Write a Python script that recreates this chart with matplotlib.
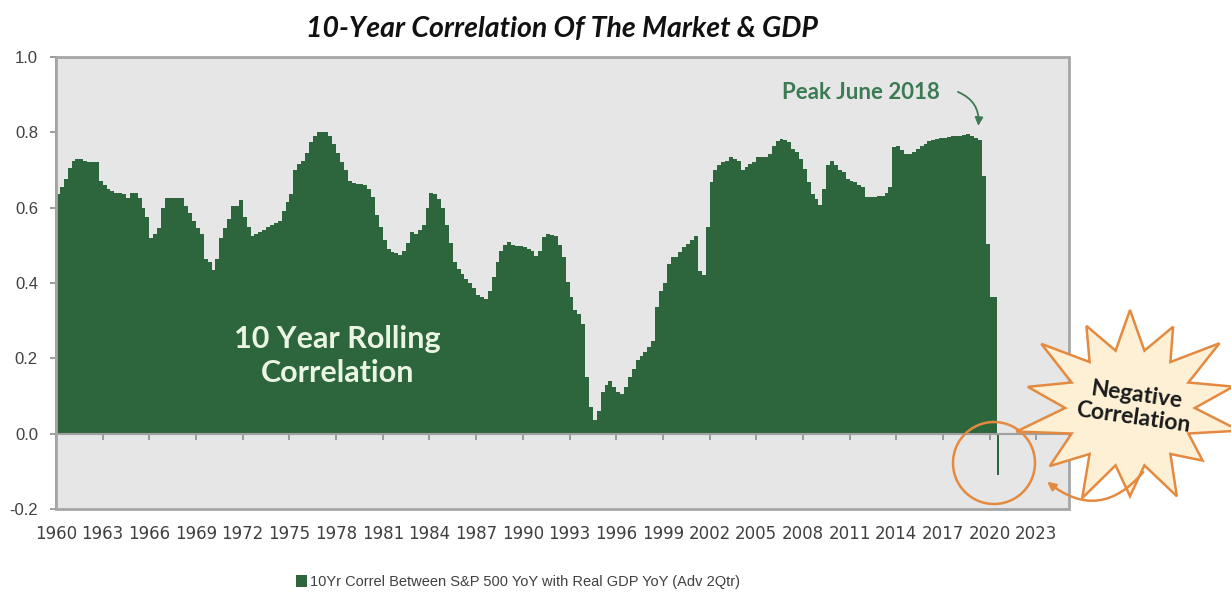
import numpy as np
import matplotlib
matplotlib.use('Agg')
import matplotlib.pyplot as plt
from matplotlib.patches import Polygon, Ellipse, FancyArrowPatch, Rectangle
from matplotlib.ticker import FuncFormatter

# 10yr rolling correlation of S&P 500 YoY with real GDP YoY, quarterly from 1960 Q1
corr_1960s = [0.635, 0.655, 0.675, 0.705, 0.725, 0.73, 0.73, 0.725,
              0.72, 0.72, 0.72, 0.67, 0.66, 0.65, 0.645, 0.64,
              0.64, 0.635, 0.625, 0.64, 0.64, 0.625, 0.60, 0.575,
              0.52, 0.53, 0.545, 0.60, 0.625, 0.625, 0.625, 0.625,
              0.625, 0.605, 0.585, 0.565, 0.545, 0.53, 0.465, 0.455]
corr_1970s = [0.435, 0.465, 0.52, 0.545, 0.57, 0.605, 0.605, 0.62,
              0.575, 0.55, 0.525, 0.53, 0.535, 0.54, 0.55, 0.555,
              0.56, 0.565, 0.59, 0.615, 0.635, 0.70, 0.715, 0.725,
              0.745, 0.775, 0.79, 0.80, 0.80, 0.80, 0.79, 0.77,
              0.745, 0.72, 0.70, 0.672, 0.665, 0.663, 0.663, 0.66]
corr_1980s = [0.65, 0.628, 0.58, 0.55, 0.515, 0.49, 0.483, 0.48,
              0.475, 0.485, 0.505, 0.535, 0.53, 0.54, 0.555, 0.60,
              0.64, 0.637, 0.623, 0.60, 0.555, 0.505, 0.455, 0.437,
              0.424, 0.41, 0.40, 0.388, 0.368, 0.362, 0.358, 0.379,
              0.415, 0.455, 0.486, 0.50, 0.508, 0.50, 0.499, 0.499]
corr_1990s = [0.495, 0.49, 0.486, 0.473, 0.486, 0.521, 0.53, 0.528,
              0.526, 0.50, 0.468, 0.402, 0.362, 0.327, 0.318, 0.291,
              0.15, 0.07, 0.035, 0.06, 0.11, 0.13, 0.14, 0.125,
              0.11, 0.105, 0.123, 0.15, 0.172, 0.195, 0.205, 0.216,
              0.229, 0.247, 0.336, 0.38, 0.40, 0.45, 0.468, 0.468]
corr_2000s = [0.482, 0.495, 0.504, 0.513, 0.526, 0.433, 0.42, 0.548,
              0.668, 0.699, 0.712, 0.72, 0.725, 0.734, 0.73, 0.725,
              0.699, 0.707, 0.715, 0.721, 0.734, 0.734, 0.734, 0.743,
              0.765, 0.778, 0.783, 0.78, 0.774, 0.756, 0.747, 0.73,
              0.703, 0.668, 0.637, 0.623, 0.606, 0.65, 0.712, 0.725]
corr_2010s = [0.712, 0.70, 0.694, 0.676, 0.672, 0.668, 0.66, 0.654,
              0.628, 0.628, 0.628, 0.632, 0.632, 0.64, 0.655, 0.76,
              0.765, 0.752, 0.743, 0.743, 0.747, 0.756, 0.765, 0.77,
              0.778, 0.78, 0.783, 0.784, 0.785, 0.787, 0.789, 0.79,
              0.791, 0.793, 0.795, 0.79, 0.785, 0.78, 0.685, 0.504]
corr_2020s = [0.362, 0.362]
# latest reading (2020 Q3) turned negative
neg_value = -0.11

start_year = 1960
x_ticks = list(range(1960, 2024, 3))
y_ticks = [-0.2, 0.0, 0.2, 0.4, 0.6, 0.8, 1.0]

corr = np.array(corr_1960s + corr_1970s + corr_1980s + corr_1990s
                + corr_2000s + corr_2010s + corr_2020s)
dates = start_year + np.arange(len(corr)) * 0.25
neg_date = dates[-1] + 0.25

GREEN = '#2d663c'
ORANGE = '#e48a40'
W, H = 1231, 598
SANS = ['Liberation Sans', 'DejaVu Sans']
CALI = ['Lato', 'Open Sans', 'DejaVu Sans']


def px(x, y):
    # pixel position (from top-left) -> figure fraction
    return (x / W, 1 - y / H)


fig = plt.figure(figsize=(W / 100, H / 100), dpi=100)
ax = fig.add_axes([56 / W, 89 / H, 1013 / W, 452 / H])
ax.set_facecolor('#e6e6e6')

# step-shaped area of the quarterly readings
ax.fill_between(np.append(dates, dates[-1] + 0.25), np.append(corr, corr[-1]),
                step='post', color=GREEN, linewidth=0,
                label='10Yr Correl Between S&P 500 YoY with Real GDP YoY (Adv 2Qtr)')
ax.bar([neg_date], [neg_value], width=0.13, align='edge', color=GREEN, linewidth=0)

ax.set_xlim(1960, 2025.1)
ax.set_ylim(-0.2, 1.0)

ax.set_yticks(y_ticks)
ax.yaxis.set_major_formatter(FuncFormatter(lambda v, p: f'{v:.1f}'))
ax.set_xticks(x_ticks)
ax.tick_params(axis='both', colors='#8c8c8c', labelcolor='#404040', labelsize=12)
ax.tick_params(axis='y', length=4, width=1.2, pad=9)
ax.tick_params(axis='x', length=4, width=1.2, pad=62, direction='out')
for lbl in ax.get_xticklabels() + ax.get_yticklabels():
    lbl.set_family(SANS)

# x axis crosses at zero, frame drawn around the plot area
ax.spines['bottom'].set_position(('data', 0))
ax.spines['bottom'].set_color('#a0a0a0')
ax.spines['bottom'].set_linewidth(1.5)
for s in ['top', 'right']:
    ax.spines[s].set_visible(False)
ax.spines['left'].set_color('#8c8c8c')
ax.spines['left'].set_linewidth(1.5)
ax.add_patch(Rectangle((0, 0), 1, 1, transform=ax.transAxes, fill=False,
                       edgecolor='#a6a6a6', linewidth=2, zorder=5, clip_on=False))

fig.text(*px(562, 29), '10-Year Correlation Of The Market & GDP',
         ha='center', va='center', fontsize=20.5, fontweight='bold',
         fontstyle='italic', family=CALI, color='#111111')

ax.text(1978.1, 0.207, '10 Year Rolling\nCorrelation', ha='center', va='center',
        fontsize=22, fontweight='bold', color='#eaf5e4', linespacing=1.25,
        family=CALI)

# peak callout
ax.text(2011.7, 0.906, 'Peak June 2018', ha='center', va='center', fontsize=16,
        fontweight='bold', color='#3b7a52', family=CALI)
ax.add_patch(FancyArrowPatch((2017.8, 0.91), (2019.25, 0.81),
                             connectionstyle='arc3,rad=-0.4', arrowstyle='-|>',
                             mutation_scale=12, color='#3b7a52', linewidth=1.3))

# circle around the negative reading
fig.add_artist(Ellipse(px(994, 463), 82 / W, 82 / H, transform=fig.transFigure,
                       fill=False, edgecolor=ORANGE, linewidth=1.8))

# starburst label
cx, cy = 1130, 408
n_spikes = 14
spike = [1.0, 0.93, 1.05, 0.97, 1.08, 0.95, 1.02, 0.9, 1.0, 0.86, 1.04, 0.98, 1.06, 0.92]
ang = np.deg2rad(90 + np.arange(2 * n_spikes) * 180 / n_spikes)
rad = np.array([spike[i // 2] if i % 2 == 0 else 0.6 for i in range(2 * n_spikes)])
sx = cx + 108 * rad * np.cos(ang)
sy = cy - 98 * rad * np.sin(ang)
fig.add_artist(Polygon(np.column_stack([sx / W, 1 - sy / H]), closed=True,
                       transform=fig.transFigure, facecolor='#fdf0d5',
                       edgecolor=ORANGE, linewidth=1.8))
fig.text(*px(1135, 406), 'Negative\nCorrelation', ha='center', va='center',
         rotation=-8, fontsize=16.5, fontweight='bold', color='#1a1a1a',
         linespacing=1.1, family=CALI)
fig.add_artist(FancyArrowPatch(px(1145, 470), px(1045, 480), transform=fig.transFigure,
                               connectionstyle='arc3,rad=-0.5', arrowstyle='-|>',
                               mutation_scale=12, color=ORANGE, linewidth=1.8))

leg = fig.legend(loc='center', bbox_to_anchor=px(518, 582), frameon=False,
                 handlelength=0.8, handleheight=0.8, handletextpad=0.2,
                 prop={'family': SANS, 'size': 10.5})
for t in leg.get_texts():
    t.set_color('#404040')

fig.savefig('out.png', dpi=100)
